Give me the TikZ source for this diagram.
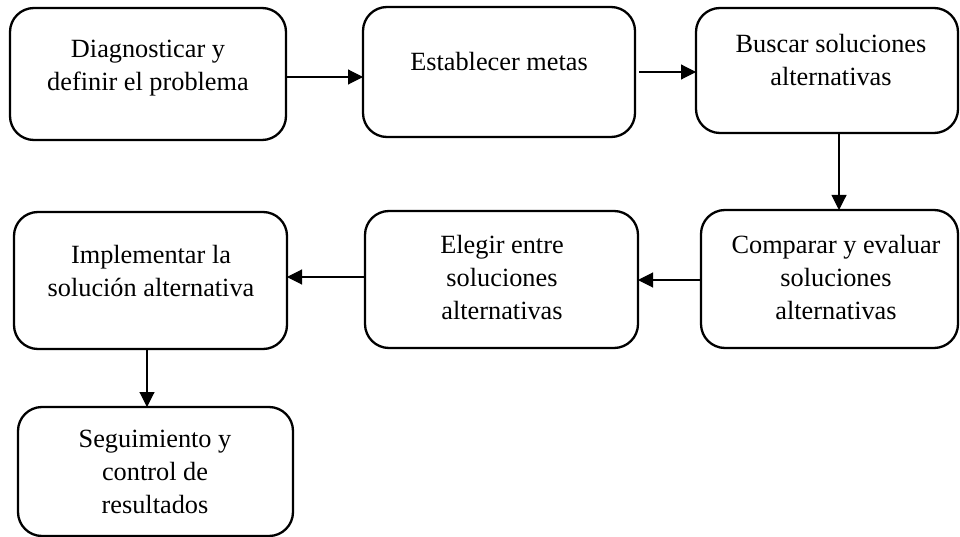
\documentclass[tikz,border=0pt]{standalone}
\usepackage{fontspec}
\setmainfont{Liberation Serif}
\usetikzlibrary{arrows.meta}
\begin{document}
\begin{tikzpicture}[x=1pt,y=-1pt,
  stepbox/.style={draw=black, line width=2.3pt, rounded corners=24pt,
    inner sep=0pt, outer sep=0pt, fill=white},
  steptext/.style={anchor=north, inner sep=0pt, align=center,
    font=\fontsize{26.3}{33}\selectfont},
  flow/.style={line width=1.1pt, -{Triangle[length=15pt,width=15pt]}}]
\useasboundingbox (0,0) rectangle (960,537);
% boxes: (left,top) rectangle (right,bottom)
\node[stepbox, minimum width=276, minimum height=132] (b1) at (148,74) {};
\node[stepbox, minimum width=272, minimum height=130] (b2) at (499,72) {};
\node[stepbox, minimum width=262, minimum height=125] (b3) at (827,70.5) {};
\node[stepbox, minimum width=257, minimum height=138] (b4) at (829.5,279) {};
\node[stepbox, minimum width=273, minimum height=137] (b5) at (501.5,279.5) {};
\node[stepbox, minimum width=273, minimum height=137] (b6) at (150.5,280.5) {};
\node[stepbox, minimum width=275, minimum height=129] (b7) at (155.5,471.5) {};
% texts
\node[steptext] (t1) at (148,40) {Diagnosticar y\\definir el problema};
\node[steptext] (t2) at (499,52) {Establecer metas};
\node[steptext] (t3) at (831,34) {Buscar soluciones\\alternativas};
\node[steptext] (t4) at (836,235) {Comparar y evaluar\\soluciones\\alternativas};
\node[steptext] (t5) at (502,235) {Elegir entre\\soluciones\\alternativas};
\node[steptext] (t6) at (151,245) {Implementar la\\solución alternativa};
\node[steptext] (t7) at (155,430) {Seguimiento y\\control de\\resultados};
% connectors
\draw[flow] (b1.east |- 0,77) -- (b2.west |- 0,77);
\draw[flow] ([xshift=4pt]b2.east |- 0,72) -- (b3.west |- 0,72);
\draw[flow] (b3.south -| 839,0) -- (b4.north -| 839,0);
\draw[flow] (b4.west |- 0,280) -- (b5.east |- 0,280);
\draw[flow] (b5.west |- 0,277) -- (b6.east |- 0,277);
\draw[flow] (b6.south -| 147,0) -- (b7.north -| 147,0);
\end{tikzpicture}
\end{document}
